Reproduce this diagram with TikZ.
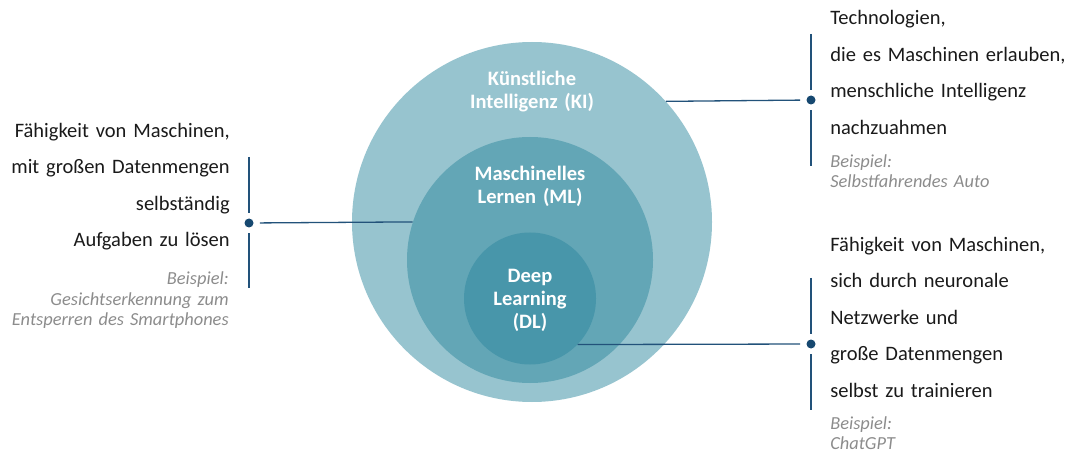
\documentclass[tikz,border=0pt]{standalone}
\usepackage{fontspec}
\setmainfont{Carlito}
\usetikzlibrary{arrows,positioning}
\definecolor{kicol}{RGB}{151,196,207}
\definecolor{mlcol}{RGB}{99,166,182}
\definecolor{dlcol}{RGB}{72,150,170}
\definecolor{leadblue}{RGB}{34,82,122}
\definecolor{punktblue}{RGB}{22,72,112}
\definecolor{infoblack}{RGB}{26,26,26}
\definecolor{bspgrey}{RGB}{140,140,140}

\begin{document}
\begin{tikzpicture}[x=1pt,y=1pt,semithick]
  \tikzstyle{ring}=[circle,inner sep=0pt,draw=none]
  \tikzstyle{ringtext}=[text=white,font=\bfseries\fontsize{20.5}{23}\selectfont,
                        text width=170pt,align=center,anchor=base,inner sep=0pt]
  \tikzstyle{punkt}=[circle,fill=punktblue,inner sep=0pt,minimum size=9pt]
  \tikzstyle{lead}=[draw=leadblue,line width=1.3pt]
  \tikzstyle{info}=[text=infoblack,font=\fontsize{20.5}{36.5}\selectfont,
                    text width=240pt,inner sep=0pt]
  \tikzstyle{beispiel}=[text=bspgrey,font=\itshape\fontsize{18.4}{20.5}\selectfont,
                        text width=240pt,inner sep=0pt]

  \useasboundingbox (0,0) rectangle (1071,453);

  % nested circles
  \node[ring,fill=kicol,minimum size=360pt] (ki) at (532,231)   {};
  \node[ring,fill=mlcol,minimum size=246pt] (ml) at (530,193)   {};
  \node[ring,fill=dlcol,minimum size=132pt] (dl) at (530,154.5) {};

  \node[ringtext] (kitext) at (532,367) {Künstliche\\Intelligenz (KI)};
  \node[ringtext] (mltext) at (530,272) {Maschinelles\\Lernen (ML)};
  \node[ringtext] (dltext) at (530,171) {Deep\\Learning\\(DL)};

  % dots and line ends
  \node[punkt] (kidot) at (811,353) {};
  \node[punkt] (mldot) at (249,230) {};
  \node[punkt] (dldot) at (811,109) {};
  \coordinate (kitop) at (811,419);
  \coordinate (kibot) at (811,287);
  \coordinate (mltop) at (249,296);
  \coordinate (mlbot) at (249,165);
  \coordinate (dltop) at (811,175);
  \coordinate (dlbot) at (811,43);

  \path[lead]
(ki.42.7)  edge [shorten >=6pt]   (kidot)
(kitop)    edge [shorten >=5.5pt] (kidot)
(kidot)    edge [shorten <=5.5pt] (kibot)
(ml.162.5) edge [shorten >=6pt]   (mldot)
(mltop)    edge [shorten >=5.5pt] (mldot)
(mldot)    edge [shorten <=5.5pt] (mlbot)
(dl.316.4) edge [shorten >=6pt]   (dldot)
(dltop)    edge [shorten >=5.5pt] (dldot)
(dldot)    edge [shorten <=5.5pt] (dlbot)
;

  % descriptions
  \node[info,anchor=base west,align=left] (kiinfo) at (830,428)
    {Technologien,\\die es Maschinen erlauben,\\menschliche Intelligenz\\nachzuahmen};
  \node[beispiel,anchor=base west,align=left] (kibsp) at (830,285.7)
    {Beispiel:\\Selbstfahrendes Auto};
  \node[info,anchor=base east,align=right] (mlinfo) at (230,315.7)
    {Fähigkeit von Maschinen,\\mit großen Datenmengen\\selbständig\\Aufgaben zu lösen};
  \node[beispiel,anchor=base east,align=right] (mlbsp) at (229,168)
    {Beispiel:\\Gesichtserkennung zum\\Entsperren des Smartphones};
  \node[info,anchor=base west,align=left] (dlinfo) at (830,201.5)
    {Fähigkeit von Maschinen,\\sich durch neuronale\\Netzwerke und\\große Datenmengen\\selbst zu trainieren};
  \node[beispiel,anchor=base west,align=left] (dlbsp) at (830,23.7)
    {Beispiel:\\ChatGPT};

\end{tikzpicture}
\end{document}
